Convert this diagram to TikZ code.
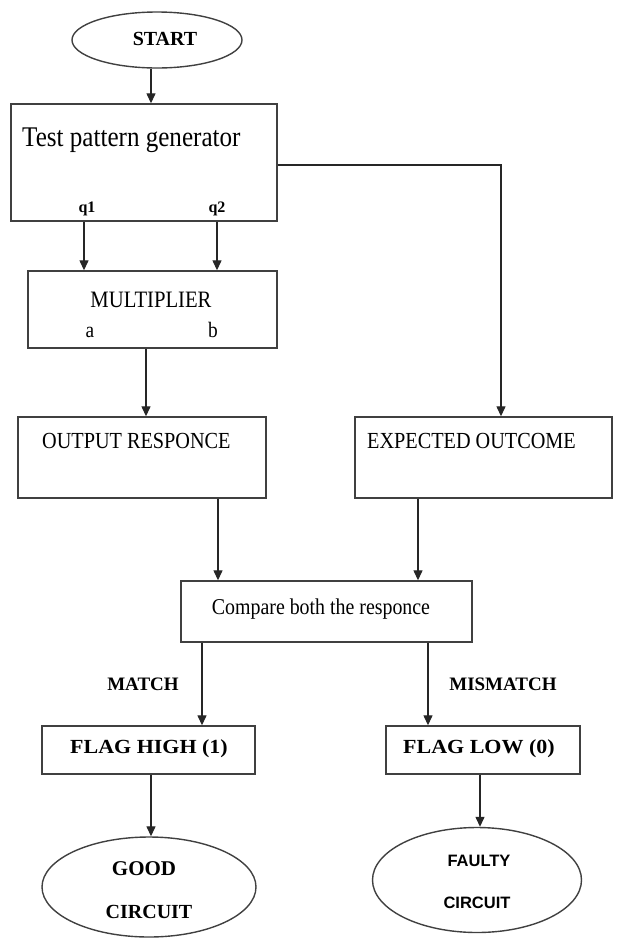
\documentclass[tikz,border=0pt]{standalone}
\usepackage{fontspec}
\setmainfont[FakeStretch=0.88]{Liberation Serif}
\newfontfamily\tagfont{Liberation Serif}
\newfontfamily\widetagfont[FakeStretch=1.1]{Liberation Serif}
\newfontfamily\sansfont{Liberation Sans}
\usetikzlibrary{shapes.geometric,arrows.meta}
\tikzset{
  box/.style={draw=black!75, line width=1.4pt, rectangle, inner sep=0pt},
  oval/.style={draw=black!75, line width=1.4pt, ellipse, inner sep=0pt},
  flow/.style={draw=black!85, line width=1.3pt, -{Triangle[width=9pt,length=10pt]}},
  txt/.style={inner sep=0pt, text=black},
}
\begin{document}
\begin{tikzpicture}[x=1pt, y=-1pt]
\useasboundingbox (0,0) rectangle (624,938);

% shapes
\node[oval, minimum width=170pt, minimum height=56pt] (start) at (157,40) {};
\node[box, minimum width=266pt, minimum height=117pt] (tpg) at (144,162.5) {};
\node[box, minimum width=249pt, minimum height=77pt] (mult) at (152.5,309.5) {};
\node[box, minimum width=248pt, minimum height=81pt] (out) at (142,457.5) {};
\node[box, minimum width=257pt, minimum height=81pt] (exp) at (483.5,457.5) {};
\node[box, minimum width=291pt, minimum height=61pt] (cmp) at (326.5,611.5) {};
\node[box, minimum width=213pt, minimum height=48pt] (high) at (148.5,750) {};
\node[box, minimum width=194pt, minimum height=48pt] (low) at (483,750) {};
\node[oval, minimum width=214pt, minimum height=100pt] (good) at (149,887) {};
\node[oval, minimum width=209pt, minimum height=105pt] (faulty) at (477,880) {};

% texts
\node[txt, anchor=base] (tstart) at (165,45) {\tagfont\bfseries\fontsize{20}{20}\selectfont START};
\node[txt, anchor=base west] (ttpg) at (22,146) {\fontsize{28.5}{28.5}\selectfont Test pattern generator};
\node[txt, anchor=base] (tq1) at (87,212) {\tagfont\bfseries\fontsize{16}{16}\selectfont q1};
\node[txt, anchor=base] (tq2) at (217,212) {\tagfont\bfseries\fontsize{16}{16}\selectfont q2};
\node[txt, anchor=base] (tmult) at (151,307) {\fontsize{23.5}{23.5}\selectfont MULTIPLIER};
\node[txt, anchor=base] (ta) at (90,337) {\fontsize{22}{22}\selectfont a};
\node[txt, anchor=base] (tb) at (213,337) {\fontsize{22}{22}\selectfont b};
\node[txt, anchor=base west] (tout) at (42,448) {\fontsize{23}{23}\selectfont OUTPUT RESPONCE};
\node[txt, anchor=base west] (texp) at (367,448) {\fontsize{23}{23}\selectfont EXPECTED OUTCOME};
\node[txt, anchor=base] (tcmp) at (321,614) {\fontsize{22.6}{22.6}\selectfont Compare both the responce};
\node[txt, anchor=base] (tmatch) at (143,690) {\tagfont\bfseries\fontsize{19}{19}\selectfont MATCH};
\node[txt, anchor=base] (tmis) at (503,690) {\tagfont\bfseries\fontsize{19}{19}\selectfont MISMATCH};
\node[txt, anchor=base] (thigh) at (149,753) {\widetagfont\bfseries\fontsize{20}{20}\selectfont FLAG HIGH (1)};
\node[txt, anchor=base] (tlow) at (479,753) {\widetagfont\bfseries\fontsize{20}{20}\selectfont FLAG LOW (0)};
\node[txt, anchor=base] (tgood) at (144,875) {\tagfont\bfseries\fontsize{21}{21}\selectfont GOOD};
\node[txt, anchor=base] (tgoodc) at (149,918) {\tagfont\bfseries\fontsize{20}{20}\selectfont CIRCUIT};
\node[txt, anchor=base] (tfaulty) at (479,866) {\sansfont\bfseries\fontsize{16.5}{16.5}\selectfont FAULTY};
\node[txt, anchor=base] (tfaultyc) at (477,908) {\sansfont\bfseries\fontsize{16.5}{16.5}\selectfont CIRCUIT};

% connectors
\draw[flow] (start.south -| 151,0) -- (tpg.north -| 151,0);
\draw[flow] (tpg.south -| 84,0) -- (mult.north -| 84,0);
\draw[flow] (tpg.south -| 217,0) -- (mult.north -| 217,0);
\draw[flow] (mult.south -| 146,0) -- (out.north -| 146,0);
\draw[flow] (tpg.east |- 0,165) -| (exp.north -| 501,0);
\draw[flow] (out.south -| 218,0) -- (cmp.north -| 218,0);
\draw[flow] (exp.south -| 418,0) -- (cmp.north -| 418,0);
\draw[flow] (cmp.south -| 202,0) -- (high.north -| 202,0);
\draw[flow] (cmp.south -| 428,0) -- (low.north -| 428,0);
\draw[flow] (high.south -| 151,0) -- (good.north -| 151,0);
\draw[flow] (low.south -| 480,0) -- (faulty.north -| 480,0);
\end{tikzpicture}
\end{document}
